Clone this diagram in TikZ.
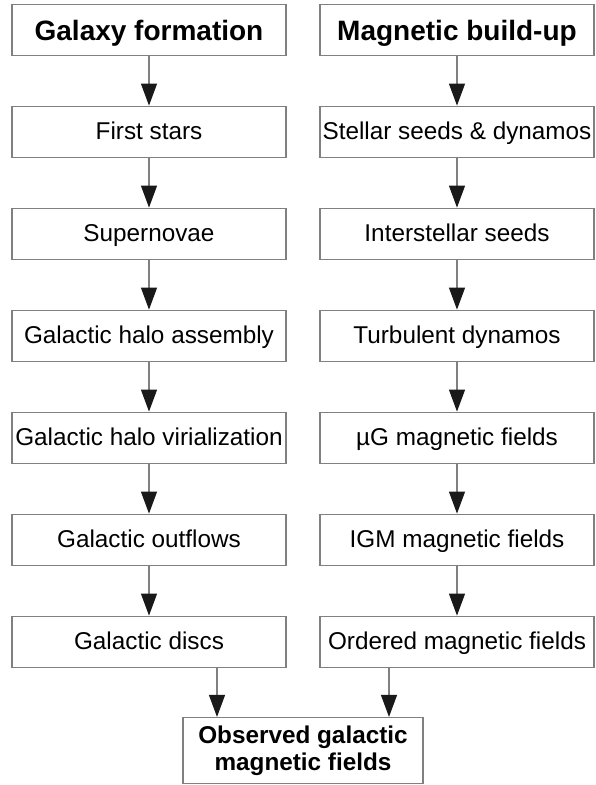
\documentclass[tikz,border=0pt]{standalone}
\usepackage{fontspec}
\setmainfont{Liberation Sans}
\usetikzlibrary{arrows.meta}
\begin{document}
\begin{tikzpicture}[x=1pt,y=1pt,node distance=102pt, box/.style={rectangle,draw=black!50,line width=1.2pt,minimum width=274pt,minimum height=51pt,inner sep=0pt,text height=17.5pt,text depth=2.5pt,font=\fontsize{24.3}{27}\selectfont}, head/.style={box,text height=21.5pt,text depth=0.5pt,font=\fontsize{28}{32}\selectfont\bfseries}, result/.style={box,minimum width=240pt,minimum height=66pt,text height=,text depth=,align=center,font=\fontsize{24.3}{27}\selectfont\bfseries}, flow/.style={draw=black!50,line width=1.2pt,-{Triangle[length=22pt,width=16pt,color=black!90]}}]
  \useasboundingbox (0,0) rectangle (595,-785);
  \node (galaxy) [head] at (149,-29.7) {Galaxy formation};
  \node (magnetic) [head,right of=galaxy,node distance=308pt] {Magnetic build-up};
  \node (stars) [box,below of=galaxy] {First stars};
  \node (supernovae) [box,below of=stars] {Supernovae};
  \node (assembly) [box,below of=supernovae] {Galactic halo assembly};
  \node (virial) [box,below of=assembly] {Galactic halo virialization};
  \node (outflows) [box,below of=virial] {Galactic outflows};
  \node (discs) [box,below of=outflows] {Galactic discs};
  \node (seeds) [box,below of=magnetic] {Stellar seeds \& dynamos};
  \node (ism) [box,below of=seeds] {Interstellar seeds};
  \node (dynamos) [box,below of=ism] {Turbulent dynamos};
  \node (microgauss) [box,below of=dynamos] {µG magnetic fields};
  \node (igm) [box,below of=microgauss] {IGM magnetic fields};
  \node (ordered) [box,below of=igm] {Ordered magnetic fields};
  \node (observed) [result] at (303,-750.5) {Observed galactic\\magnetic fields};
  \coordinate (in left) at ([xshift=-86pt]observed.north);
  \coordinate (in right) at ([xshift=86pt]observed.north);
  \draw[flow] (galaxy) -- (stars);
  \draw[flow] (stars) -- (supernovae);
  \draw[flow] (supernovae) -- (assembly);
  \draw[flow] (assembly) -- (virial);
  \draw[flow] (virial) -- (outflows);
  \draw[flow] (outflows) -- (discs);
  \draw[flow] (magnetic) -- (seeds);
  \draw[flow] (seeds) -- (ism);
  \draw[flow] (ism) -- (dynamos);
  \draw[flow] (dynamos) -- (microgauss);
  \draw[flow] (microgauss) -- (igm);
  \draw[flow] (igm) -- (ordered);
  \draw[flow] (discs.south -| in left) -- (in left);
  \draw[flow] (ordered.south -| in right) -- (in right);
\end{tikzpicture}
\end{document}
